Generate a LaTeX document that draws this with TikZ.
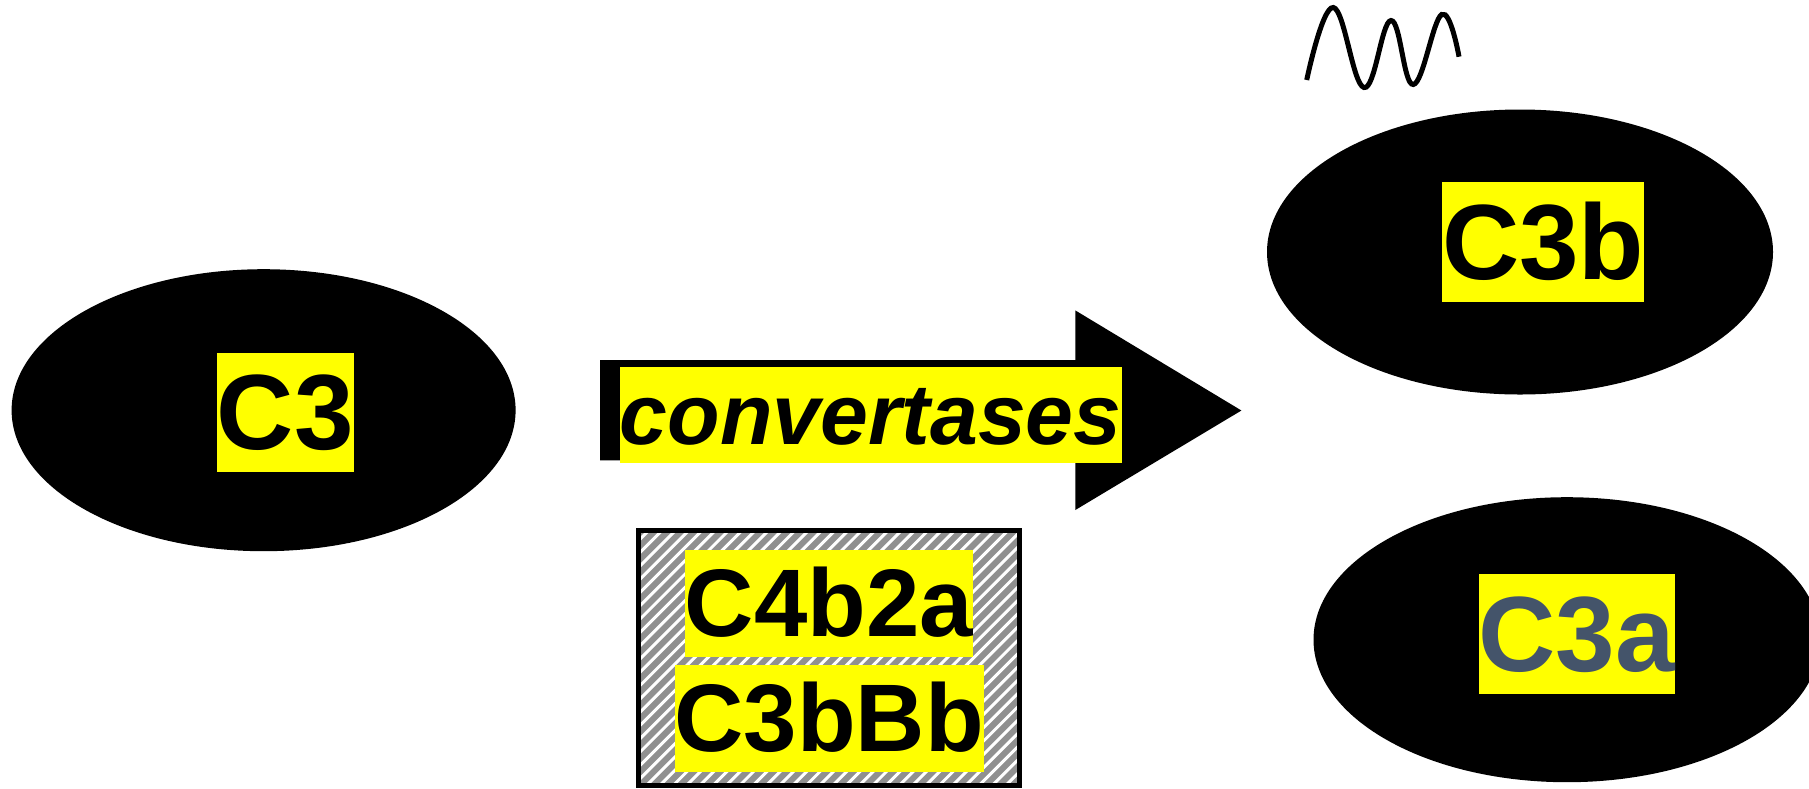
\documentclass[tikz,border=0pt]{standalone}
\usepackage{fontspec}
\setmainfont{Liberation Sans}
\usetikzlibrary{shapes.geometric}
\definecolor{labelgray}{HTML}{44546A}
\definecolor{hatchgray}{HTML}{909090}
\definecolor{pureyellow}{RGB}{255,255,0}
\begin{document}
\begin{tikzpicture}[x=1pt,y=-1pt,
  blob/.style={ellipse, fill=black, inner sep=0pt},
  tagbig/.style={fill=pureyellow, inner sep=0pt, anchor=north west,
    font=\bfseries\fontsize{107}{107}\selectfont, text height=96.8pt, text depth=22.7pt},
  tagmid/.style={fill=pureyellow, inner sep=0pt, anchor=north west,
    font=\bfseries\fontsize{96}{96}\selectfont, text height=86.9pt, text depth=20.4pt},
  tagarrow/.style={fill=pureyellow, inner sep=0pt, anchor=north west,
    font=\bfseries\itshape\fontsize{86}{86}\selectfont, text height=77.8pt, text depth=18.2pt},
  arrowbody/.style={fill=black},
  wave/.style={draw=black, line width=5pt},
  hatchline/.style={white, line width=3pt},
  frame/.style={draw=black, line width=5pt}]
\useasboundingbox (0,0) rectangle (1809,788);

% ellipses
\node[blob, minimum width=504pt, minimum height=282pt] (e3) at (263.6,410.2) {};
\node[blob, minimum width=506pt, minimum height=285pt] (e3b) at (1520,252) {};
\node[blob, minimum width=507pt, minimum height=285pt] (e3a) at (1567,639.7) {};

% labels in ellipses
\node[tagbig] (t3) at (216.7,352.7) {C3};
\node[tagbig] (t3b) at (1442,182) {C3b};
\node[tagbig, text=labelgray] (t3a) at (1478.3,574) {C3a};

% block arrow
\fill[arrowbody] (600,360) -- (1075.3,360) -- (1075.3,310.4) -- (1241.4,410.5)
  -- (1075.3,510) -- (1075.3,460.3) -- (600,460.3) -- cycle;
\node[tagarrow] (conv) at (619.5,366.9) {convertases};

% hatched box
\begin{scope}
  \clip (638.5,530.5) rectangle (1019.5,785.5);
  \fill[hatchgray] (636,528) rectangle (1022,788);
  \foreach \i in {0,...,50} {
    \draw[hatchline] ({376+\i*13.3},790) -- ++(262,-262);
  }
\end{scope}
\node[tagmid] (c4) at (684.5,549.3) {C4b2a};
\node[tagmid] (c3bb) at (674.3,664.3) {C3bBb};
\draw[frame] (638.5,530.5) rectangle (1019.5,785.5);

% wave
\draw[wave] plot[smooth, tension=0.7] coordinates
  {(1306.7,80) (1333.3,7.5) (1364,87.5) (1391,20.5) (1413.3,84.5) (1441.7,14.5) (1459,56.7)};
\end{tikzpicture}
\end{document}
